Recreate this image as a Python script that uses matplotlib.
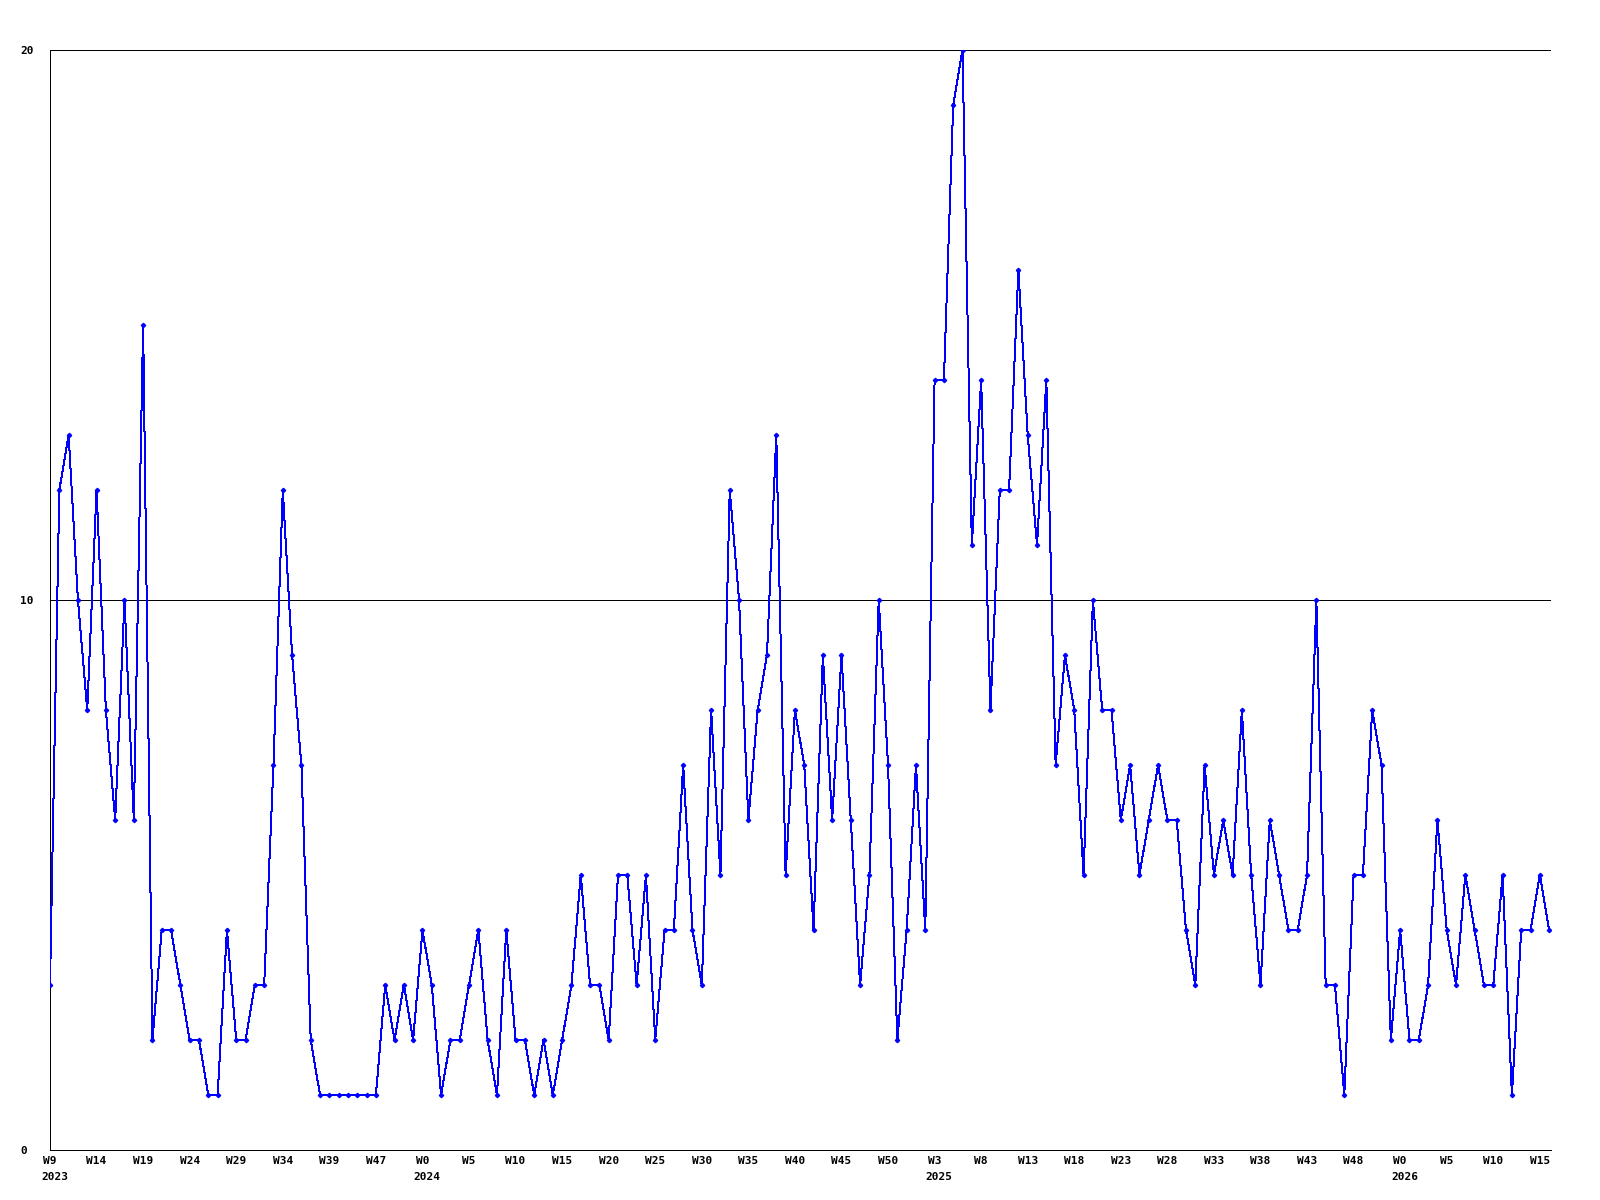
import matplotlib
matplotlib.use("Agg")
import matplotlib.pyplot as plt
import matplotlib.transforms as mtransforms

# weekly counts, W9 2023 .. W16 2026
counts = [
    3, 12, 13, 10, 8, 12, 8, 6, 10, 6,
    15, 2, 4, 4, 3, 2, 2, 1, 1, 4,
    2, 2, 3, 3, 7, 12, 9, 7, 2, 1,
    1, 1, 1, 1, 1, 1, 3, 2, 3, 2,
    4, 3, 1, 2, 2, 3, 4, 2, 1, 4,
    2, 2, 1, 2, 1, 2, 3, 5, 3, 3,
    2, 5, 5, 3, 5, 2, 4, 4, 7, 4,
    3, 8, 5, 12, 10, 6, 8, 9, 13, 5,
    8, 7, 4, 9, 6, 9, 6, 3, 5, 10,
    7, 2, 4, 7, 4, 14, 14, 19, 20, 11,
    14, 8, 12, 12, 16, 13, 11, 14, 7, 9,
    8, 5, 10, 8, 8, 6, 7, 5, 6, 7,
    6, 6, 4, 3, 7, 5, 6, 5, 8, 5,
    3, 6, 5, 4, 4, 5, 10, 3, 3, 1,
    5, 5, 8, 7, 2, 4, 2, 2, 3, 6,
    4, 3, 5, 4, 3, 3, 5, 1, 4, 4,
    5, 4,
]

week_labels = [
    "W9", "W14", "W19", "W24", "W29", "W34", "W39", "W47",
    "W0", "W5", "W10", "W15", "W20", "W25", "W30", "W35", "W40", "W45", "W50",
    "W3", "W8", "W13", "W18", "W23", "W28", "W33", "W38", "W43", "W48",
    "W0", "W5", "W10", "W15",
]
year_labels = ["2023", "2024", "2025", "2026"]
year_label_slots = [0, 8, 19, 29]  # which week label carries the year
label_step = 5

FONT = dict(family="DejaVu Sans Mono", fontsize=8, fontweight="bold")
PX = 72 / 100  # one pixel in points

fig = plt.figure(figsize=(16, 12), dpi=100)
ax = fig.add_axes([50 / 1600, 1 - 1150 / 1200, 1501 / 1600, 1100 / 1200])

x = list(range(len(counts)))
ax.plot(x, counts, color="#0000ff", lw=PX, marker="D", ms=2.2,
        mec="#0000ff", mfc="#0000ff", antialiased=False, zorder=3)

ax.set_xlim(0, 161.2)
ax.set_ylim(0, 20)

for y in (10, 20):
    ax.axhline(y, color="black", lw=PX, antialiased=False, zorder=1)

for side in ("top", "right"):
    ax.spines[side].set_visible(False)
for side in ("left", "bottom"):
    ax.spines[side].set_linewidth(PX)
    ax.spines[side].set_antialiased(False)

ax.set_yticks([0, 10, 20])
ax.set_yticklabels(["0", "10", "20"], **FONT)
ax.tick_params(axis="y", length=0, pad=21.6)
for lbl in ax.get_yticklabels():
    lbl.set_horizontalalignment("left")

ticks = [i * label_step for i in range(len(week_labels))]
ax.set_xticks(ticks)
ax.set_xticklabels(week_labels, **FONT)
ax.tick_params(axis="x", length=0, pad=4.5)

trans = mtransforms.offset_copy(
    mtransforms.blended_transform_factory(ax.transData, ax.transAxes),
    fig=fig, x=-9, y=-22, units="dots")
for year, slot in zip(year_labels, year_label_slots):
    ax.text(ticks[slot], 0, year, transform=trans, ha="left", va="top", **FONT)

fig.savefig("out.png", dpi=100, facecolor="white")
